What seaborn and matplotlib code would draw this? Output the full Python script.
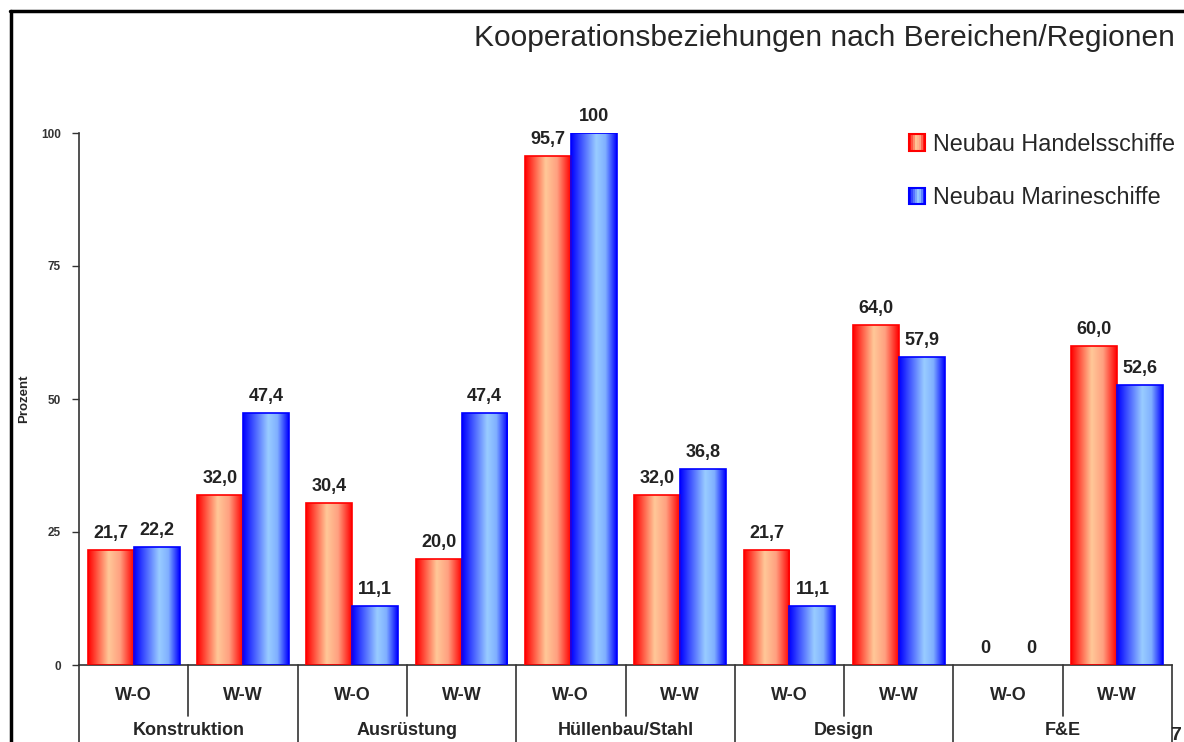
import numpy as np
import pandas as pd
import matplotlib
matplotlib.use("Agg")
import matplotlib.pyplot as plt
from matplotlib.colors import LinearSegmentedColormap
from matplotlib.lines import Line2D
from matplotlib.patches import Rectangle
from matplotlib.legend_handler import HandlerPatch
import seaborn as sns

# ---------------- data ----------------
categories = ["Konstruktion", "Ausrüstung", "Hüllenbau/Stahl", "Design", "F&E"]
regions = ["W-O", "W-W"]
series = ["Neubau Handelsschiffe", "Neubau Marineschiffe"]
handel = [21.7, 32.0, 30.4, 20.0, 95.7, 32.0, 21.7, 64.0, 0.0, 60.0]
marine = [22.2, 47.4, 11.1, 47.4, 100.0, 36.8, 11.1, 57.9, 0.0, 52.6]
handel_labels = ["21,7", "32,0", "30,4", "20,0", "95,7", "32,0", "21,7", "64,0", "0", "60,0"]
marine_labels = ["22,2", "47,4", "11,1", "47,4", "100", "36,8", "11,1", "57,9", "0", "52,6"]
yticks = [0, 25, 50, 75, 100]
title = "Kooperationsbeziehungen nach Bereichen/Regionen"
ylabel = "Prozent"

sub_keys = [f"{c}|{r}" for c in categories for r in regions]
df = pd.DataFrame({
    "sub": sub_keys * 2,
    "series": [series[0]] * len(sub_keys) + [series[1]] * len(sub_keys),
    "value": handel + marine,
    "label": handel_labels + marine_labels,
})

sns.set_style("white")
plt.rcParams["font.family"] = ["Liberation Sans", "DejaVu Sans"]

fig = plt.figure(figsize=(11.84, 7.42), dpi=100)
ax = fig.add_axes([79 / 1184, 1 - 665 / 742, (1172 - 79) / 1184, (665 - 133) / 742])

edge_cols = ["#ff0000", "#0000ff"]
sns.barplot(data=df, x="sub", y="value", hue="series", order=sub_keys,
            hue_order=series, palette=edge_cols, width=0.84, ax=ax,
            legend=False, errorbar=None, saturation=1)

cmaps = [
    LinearSegmentedColormap.from_list("r", [(0, "#ff0000"), (0.45, "#ffc898"), (0.7, "#ffa080"), (1, "#ff0000")]),
    LinearSegmentedColormap.from_list("b", [(0, "#0000ff"), (0.55, "#99ccff"), (0.75, "#80b0ff"), (1, "#0000ff")]),
]
grad = np.linspace(0, 1, 256).reshape(1, -1)

n = len(sub_keys)
for i, cont in enumerate(ax.containers):
    labels = df[df["series"] == series[i]]["label"].tolist()
    for bar, lab in zip(cont, labels):
        x, y = bar.get_x(), bar.get_y()
        w, h = bar.get_width(), bar.get_height()
        bar.set_facecolor("none")
        bar.set_edgecolor(edge_cols[i])
        bar.set_linewidth(1.2 if h > 0 else 0)
        bar.set_zorder(3)
        if h > 0:
            im = ax.imshow(grad, extent=[x, x + w, y, y + h], aspect="auto",
                           cmap=cmaps[i], zorder=2, interpolation="bilinear")
            im.set_clip_path(bar)
        ax.text(x + w / 2, h + 1.5, lab, ha="center", va="bottom",
                fontsize=13, fontweight="bold", color="#222222", clip_on=False, zorder=5)

ax.set_xlim(-0.5, n - 0.5)
ax.set_ylim(0, 100)
ax.set_yticks(yticks)
ax.set_yticklabels([str(t) for t in yticks], fontsize=8.5, fontweight="bold", color="#333333")
ax.tick_params(axis="y", direction="out", length=5, width=1, color="#333333", pad=8, left=True)
ax.set_xticks(range(n))
ax.set_xticklabels([k.split("|")[1] for k in sub_keys], fontsize=13, fontweight="bold")
ax.tick_params(axis="x", length=0, pad=16)
ax.set_xlabel("")
ax.set_ylabel(ylabel, fontsize=9.5, fontweight="bold")
ax.yaxis.set_label_coords((30 - 79) / 1093, 0.5)
for s in ["top", "right"]:
    ax.spines[s].set_visible(False)
ax.spines["left"].set_color("#333333")
ax.spines["bottom"].set_color("#333333")
ax.spines["left"].set_linewidth(1.2)
ax.spines["bottom"].set_linewidth(1.2)

# group separators below the axis
trans = ax.get_xaxis_transform()
for k in range(n + 1):
    xpos = k - 0.5
    ybot = -0.16 if (k % 2 == 0) else -0.095
    ax.add_line(Line2D([xpos, xpos], [0, ybot], transform=trans, color="#333333",
                       lw=1.2, clip_on=False))
for ci, c in enumerate(categories):
    ax.text(2 * ci + 0.5, -0.123, c, transform=trans, ha="center", va="center",
            fontsize=13, fontweight="bold", clip_on=False)

# legend with gradient swatches
class GradHandler(HandlerPatch):
    def __init__(self, cmap, edge):
        super().__init__()
        self.cmap, self.edge = cmap, edge
    def create_artists(self, legend, orig_handle, xdescent, ydescent, width, height, fontsize, trans):
        s = min(width, height) * 1.0
        x0 = -xdescent + (width - s)
        y0 = -ydescent + (height - s) / 2
        arts = []
        m = 8
        for j in range(m):
            r = Rectangle((x0 + s * j / m, y0), s / m, s, facecolor=self.cmap((j + 0.5) / m),
                          edgecolor="none", transform=trans)
            arts.append(r)
        arts.append(Rectangle((x0, y0), s, s, facecolor="none", edgecolor=self.edge, lw=1.5,
                              transform=trans))
        return arts

h1 = Rectangle((0, 0), 1, 1)
h2 = Rectangle((0, 0), 1, 1)
leg = ax.legend([h1, h2], series, handler_map={h1: GradHandler(cmaps[0], edge_cols[0]),
                                               h2: GradHandler(cmaps[1], edge_cols[1])},
                loc="upper right", bbox_to_anchor=(1.022, 1.04), frameon=False,
                fontsize=16.8, labelspacing=1.3, handlelength=0.72, handletextpad=0.35)

fig.text(1175 / 1184, 1 - 38 / 742, title, ha="right", va="center", fontsize=21.5)
fig.text(1176 / 1184, 1 - 735 / 742, "7", ha="center", va="center", fontsize=14, fontweight="bold")

# page frame
fig.add_artist(Line2D([11 / 1184, 11 / 1184], [0, 1 - 11 / 742], color="black", lw=2.5))
fig.add_artist(Line2D([10 / 1184, 1], [1 - 11 / 742, 1 - 11 / 742], color="black", lw=2.5))

fig.savefig("out.png", dpi=100, facecolor="white")
